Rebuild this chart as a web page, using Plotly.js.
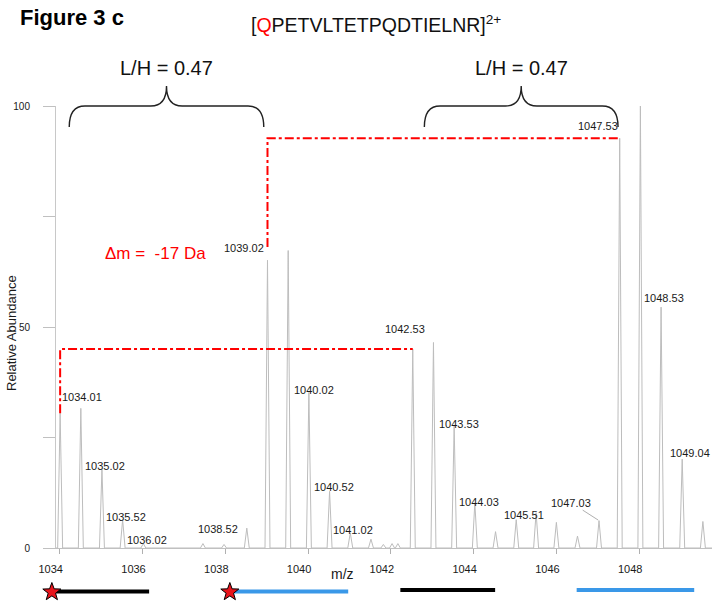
<!DOCTYPE html>
<html><head><meta charset="utf-8">
<script src="https://cdn.plot.ly/plotly-3.0.1.min.js"></script>
<style>html,body{margin:0;padding:0;background:#fff;}</style>
</head><body>
<div id="chart" style="width:716px;height:604px;"></div>
<script>
// ---------------- data ----------------
const peakMz = [1034.01,1034.51,1035.02,1035.52,1036.02,1037.46,1037.97,1038.52,1039.02,1039.52,
  1040.02,1040.52,1041.02,1041.52,1041.82,1042.03,1042.17,1042.53,1043.03,1043.53,1044.03,1044.53,
  1045.03,1045.51,1046.00,1046.51,1047.03,1047.53,1048.03,1048.53,1049.04,1049.54];
const peakAbundance = [30.5,31.6,17.8,6.4,1.0,1.0,0.8,4.5,65.1,67.3,
  35.2,12.8,3.4,2.0,0.8,1.0,1.0,45.0,46.5,27.6,10.2,3.7,
  6.4,8.0,5.8,2.7,6.2,92.7,100,54.5,20.1,6.0];
const labeledPeaks = ['1034.01','1035.02','1035.52','1036.02','1038.52','1039.02','1040.02','1040.52',
  '1041.02','1042.53','1043.53','1044.03','1045.51','1047.03','1047.53','1048.53','1049.04'];
const xTickValues = [1034,1036,1038,1040,1042,1044,1046,1048];
const yTickValues = [0,50,100];
const yMinorTickValues = [25,75];
// isotope envelopes marked under the axis
const envelopeStartMz = [1033.81,1038.11,1042.23,1046.49];
const envelopeEndMz   = [1036.16,1040.97,1044.52,1049.33];
const envelopeLabel   = ['light','heavy','light','heavy'];
const envelopePyroGlu = [true,true,false,false];
// L/H ratio brackets
const ratioStartMz = [1034.23,1042.81];
const ratioEndMz   = [1038.93,1047.49];
const ratioValue   = ['0.47','0.47'];
// mass shift pairs (pyroGlu peak -> native peak)
const shiftFromMz = [1034.01,1039.02];
const shiftToMz   = [1042.53,1047.53];
const massShift = '-17 Da';

// ---------------- styles / layout helpers ----------------
const W = 716, H = 604, ML = 56, MR = 4, MT = 106, MB = 56;
const PW = W - ML - MR, PH = H - MT - MB;
const px = x => (x - ML) / PW;           // pixel -> paper x
const py = y => (H - MB - y) / PH;       // pixel -> paper y
const FONT = 'Arial, "Liberation Sans", sans-serif';
const TXT = '#1a1a1a';
const peakHalfWidth = 0.06;
const labelOffset = { // label centre offset from peak top (px; dy down)
  '1034.01':[22,-16],'1035.02':[3,-3],'1035.52':[3,-3],'1036.02':[4,-4],'1038.52':[-29,1],
  '1039.02':[-23,-12],'1040.02':[5,-2],'1040.52':[4,-4],'1041.02':[3,-3],'1042.53':[-8,-20],
  '1043.53':[5,-2],'1044.03':[4,-1],'1045.51':[-12,2],'1047.03':[-28,-18],'1047.53':[-22,-12],
  '1048.53':[3,-9],'1049.04':[8,-6]
};
const shiftGap = [0,3];
const envelopeColor = {light:'#000000', heavy:'#3a98e8'};
const envelopeYpx = [591.5,591.5,590,590];
const starYpx = 592;

const xRange = [1033.91,1049.76];
const yRange = [0,100];
const mzToPaper = m => (m - xRange[0]) / (xRange[1] - xRange[0]);

// ---------------- spectrum profile ----------------
const order = peakMz.map((m,i)=>i).sort((a,b)=>peakMz[a]-peakMz[b]);
const specX = [xRange[0]], specY = [0];
order.forEach(i => {
  specX.push(peakMz[i]-peakHalfWidth, peakMz[i], peakMz[i]+peakHalfWidth);
  specY.push(0, peakAbundance[i], 0);
});
specX.push(xRange[1]); specY.push(0);
const abundanceAt = m => peakAbundance[peakMz.findIndex(v => Math.abs(v - m) < 1e-6)];

const traces = [{
  x: specX, y: specY, type:'scatter', mode:'lines',
  line:{color:'#bdbdbd', width:1}, hoverinfo:'skip', showlegend:false
}];

shiftFromMz.forEach((m,i) => {
  const hFrom = abundanceAt(m), hTo = abundanceAt(shiftToMz[i]);
  traces.push({
    x:[m, m, shiftToMz[i]], y:[hFrom + shiftGap[i], hTo, hTo],
    type:'scatter', mode:'lines', line:{color:'#ff0000', width:2, dash:'dashdot'},
    hoverinfo:'skip', showlegend:false
  });
});

// ---------------- annotations ----------------
const annotations = [];
labeledPeaks.forEach(lbl => {
  const m = parseFloat(lbl), h = abundanceAt(m), off = labelOffset[lbl];
  if (lbl === '1047.03') {
    annotations.push({x:m, y:h, xref:'x', yref:'y', text:lbl, showarrow:true, arrowhead:0,
      arrowwidth:0.8, arrowcolor:'#9a9a9a', ax:off[0], ay:off[1], standoff:1,
      font:{family:FONT, size:11, color:TXT}});
  } else {
    annotations.push({x:m, y:h, xref:'x', yref:'y', text:lbl, showarrow:false,
      xanchor:'center', yanchor:'middle', xshift:off[0], yshift:-off[1],
      font:{family:FONT, size:11, color:TXT}});
  }
});
annotations.push({xref:'paper', yref:'paper', x:px(18), y:py(17), xanchor:'left', yanchor:'middle',
  text:'<b>Figure 3 c</b>', showarrow:false, font:{family:FONT, size:22, color:'#000'}});
annotations.push({xref:'paper', yref:'paper', x:px(376), y:py(24), xanchor:'center', yanchor:'middle',
  text:'[<span style="color:#ff0000">Q</span>PETVLTETPQDTIELNR]<sup>2+</sup>', showarrow:false,
  font:{family:FONT, size:19.5, color:'#111'}});
ratioStartMz.forEach((m0,i) => {
  annotations.push({xref:'x', yref:'paper', x:(m0+ratioEndMz[i])/2, y:py(68), xanchor:'center', yanchor:'middle',
    text:'L/H = ' + ratioValue[i], showarrow:false, font:{family:FONT, size:20, color:'#111'}});
});
annotations.push({xref:'paper', yref:'paper', x:px(155), y:py(253), xanchor:'center', yanchor:'middle',
  text:'\u0394m =  ' + massShift, showarrow:false, font:{family:FONT, size:17, color:'#ff0000'}});
annotations.push({xref:'paper', yref:'paper', x:px(11), y:py(333), xanchor:'center', yanchor:'middle',
  text:'Relative Abundance', textangle:-90, showarrow:false, font:{family:FONT, size:13, color:TXT}});
annotations.push({xref:'paper', yref:'paper', x:px(342), y:py(574), xanchor:'center', yanchor:'middle',
  text:'m/z', showarrow:false, font:{family:FONT, size:14, color:TXT}});

// ---------------- shapes ----------------
const shapes = [];
const bBot = py(127), bTop = py(106), bTip = py(86), r = 0.38;
ratioStartMz.forEach((x0,i) => {
  const x1 = ratioEndMz[i], c = (x0+x1)/2;
  shapes.push({type:'path', xref:'x', yref:'paper', line:{color:'#222', width:1.4},
    path:`M ${x0},${bBot} Q ${x0},${bTop} ${x0+r},${bTop} L ${c-r},${bTop} Q ${c},${bTop} ${c},${bTip} ` +
         `Q ${c},${bTop} ${c+r},${bTop} L ${x1-r},${bTop} Q ${x1},${bTop} ${x1},${bBot}`});
});
envelopeStartMz.forEach((m0,i) => {
  const yy = py(envelopeYpx[i]);
  shapes.push({type:'line', xref:'paper', yref:'paper', x0:mzToPaper(m0), x1:mzToPaper(envelopeEndMz[i]),
    y0:yy, y1:yy, line:{color:envelopeColor[envelopeLabel[i]], width:4}});
});
// star glyph (pixel path)
const starPath = (() => {
  const R = 9.5, ri = 3.9; let p = '';
  for (let k = 0; k < 10; k++) {
    const a = Math.PI/2 + k*Math.PI/5, rr = (k % 2) ? ri : R;
    p += (k ? ' L ' : 'M ') + (rr*Math.cos(a)).toFixed(2) + ',' + (rr*Math.sin(a)).toFixed(2);
  }
  return p + ' Z';
})();
envelopeStartMz.forEach((m0,i) => {
  if (!envelopePyroGlu[i]) return;
  shapes.push({type:'path', xref:'paper', yref:'paper', xsizemode:'pixel', ysizemode:'pixel',
    xanchor:mzToPaper(m0), yanchor:py(starYpx), path:starPath,
    fillcolor:'#e8141c', line:{color:'#000', width:1}});
});

const layout = {
  width:W, height:H, margin:{l:ML, r:MR, t:MT, b:MB}, paper_bgcolor:'#fff', plot_bgcolor:'#fff',
  showlegend:false,
  xaxis:{range:xRange, tickvals:xTickValues, ticks:'outside', ticklen:5, tickcolor:'#b0b0b0',
    showline:true, linecolor:'#c0c0c0', linewidth:1, showgrid:false, zeroline:false,
    ticklabelshift:-9, ticklabelstandoff:6, tickfont:{family:FONT, size:11, color:TXT}},
  yaxis:{range:yRange, tickvals:yTickValues, ticks:'outside', ticklen:12,
    tickcolor:'#c0c0c0', showline:true, linecolor:'#c8c8c8', linewidth:1, showgrid:false, zeroline:false,
    minor:{tickvals:yMinorTickValues, ticks:'outside', ticklen:12, tickcolor:'#c0c0c0', showgrid:false},
    ticklabelstandoff:11, tickfont:{family:FONT, size:10, color:TXT}},
  annotations, shapes
};
Plotly.newPlot('chart', traces, layout, {displayModeBar:false, staticPlot:true});
</script>
</body></html>
